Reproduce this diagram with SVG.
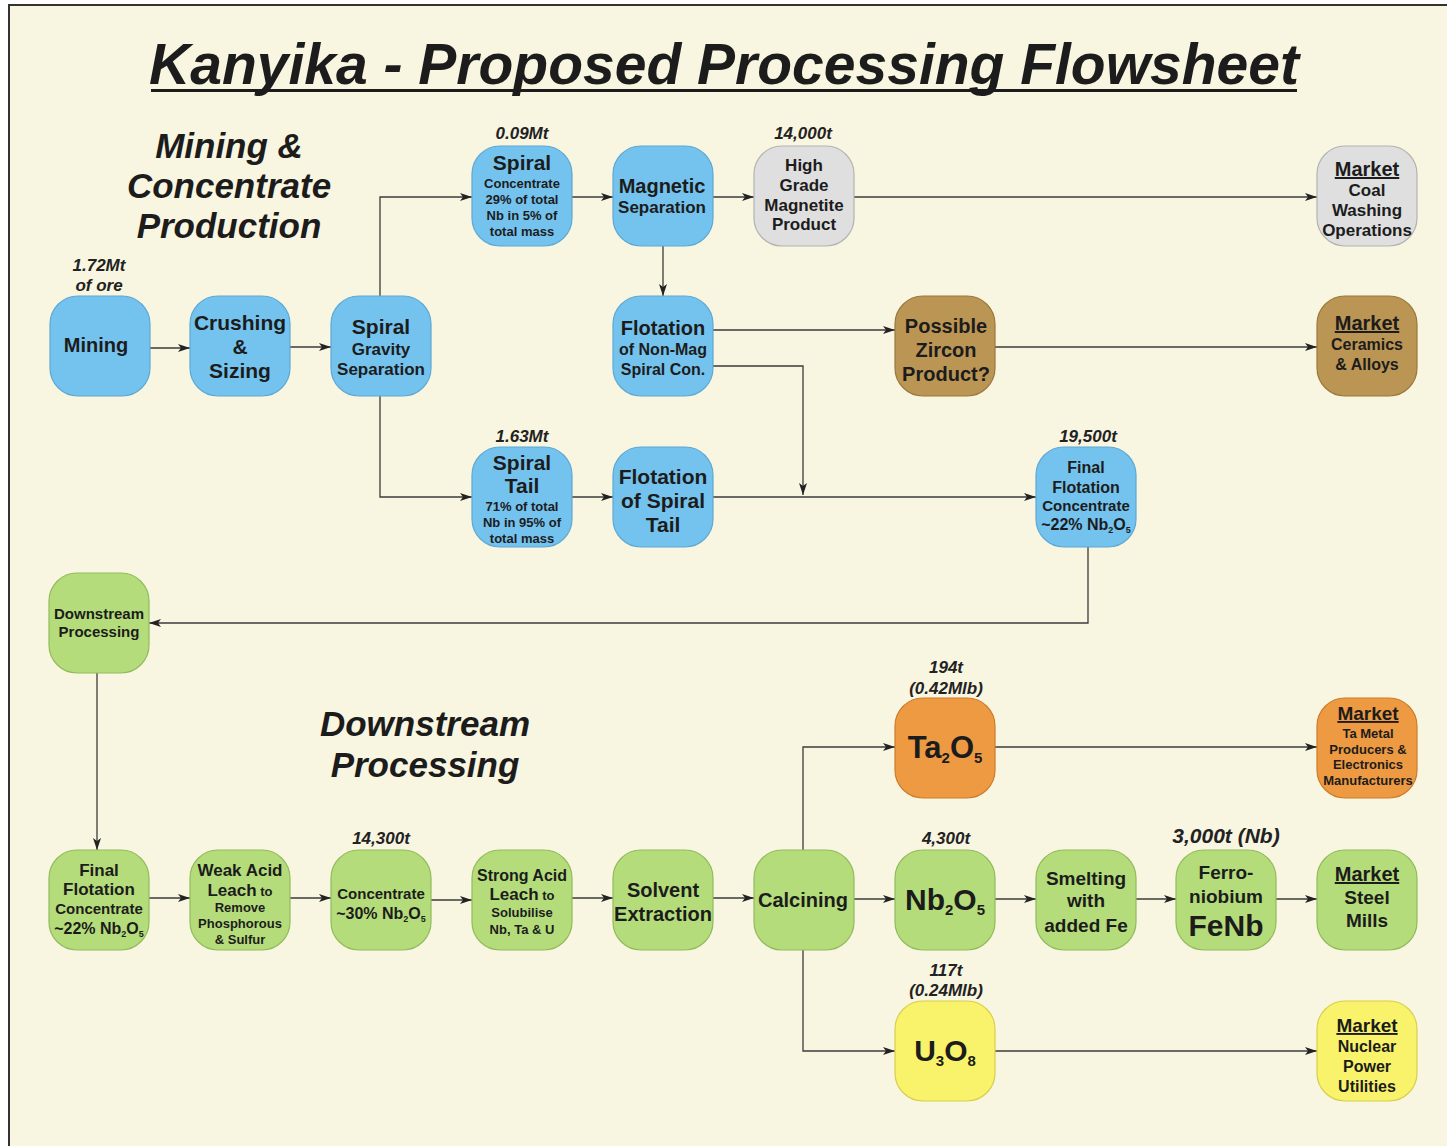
<svg xmlns="http://www.w3.org/2000/svg" width="1447" height="1146" viewBox="0 0 1447 1146">
  <style>
    text { font-family: "Liberation Sans", Arial, sans-serif; font-weight: bold; fill: #1c1c1c; text-anchor: middle; }
    .it { font-style: italic; }
    .ann { font-style: italic; font-size: 17px; fill: #222; }
    .ann-lg { font-size: 21px; }
    .u { text-decoration: underline; }
    .box { stroke-width: 1.2; }
    .blue { fill: #74c3ee; stroke: #5ea8d4; }
    .gray { fill: #dfdfdf; stroke: #b3b3b3; }
    .brown { fill: #bb9554; stroke: #9a783c; }
    .green { fill: #b5dc7a; stroke: #92bb5c; }
    .orange { fill: #ee9a42; stroke: #cd7c2a; }
    .yellow { fill: #f9f36b; stroke: #d6cf4c; }
    .wire { fill: none; stroke: #3b3b3b; stroke-width: 1.3; marker-end: url(#arr); }
  </style>
  <defs>
    <marker id="arr" viewBox="0 0 12 8" refX="12" refY="4" markerWidth="12" markerHeight="8" markerUnits="userSpaceOnUse" orient="auto">
      <path d="M0,0 L12,4 L0,8 L3,4 Z" fill="#222"/>
    </marker>
  </defs>

  <!-- page and frame -->
  <rect x="0" y="0" width="1447" height="1146" fill="#ffffff"/>
  <rect x="9" y="5" width="1446" height="1150" fill="#f8f5e0" stroke="#333" stroke-width="2"/>

  <!-- headings -->
  <g id="title">
    <text x="724" y="84" class="it" font-size="57">Kanyika - Proposed Processing Flowsheet</text>
    <rect x="151" y="89" width="1146" height="3" fill="#1c1c1c"/>
  </g>
  <g id="heading-mining">
    <text x="229" y="158" class="it" font-size="35">Mining &amp;</text>
    <text x="229" y="198" class="it" font-size="35">Concentrate</text>
    <text x="229" y="238" class="it" font-size="35">Production</text>
  </g>
  <g id="heading-downstream">
    <text x="425" y="736" class="it" font-size="35">Downstream</text>
    <text x="425" y="777" class="it" font-size="35">Processing</text>
  </g>

  <!-- quantity annotations -->
  <g id="annotations">
    <text x="99" y="271" class="ann">1.72Mt</text>
    <text x="99" y="291" class="ann">of ore</text>
    <text x="522" y="139" class="ann">0.09Mt</text>
    <text x="803" y="139" class="ann">14,000t</text>
    <text x="522" y="442" class="ann">1.63Mt</text>
    <text x="1088" y="442" class="ann">19,500t</text>
    <text x="946" y="673" class="ann">194t</text>
    <text x="946" y="694" class="ann">(0.42Mlb)</text>
    <text x="381" y="844" class="ann">14,300t</text>
    <text x="946" y="844" class="ann">4,300t</text>
    <text x="1226" y="843" class="ann ann-lg">3,000t (Nb)</text>
    <text x="946" y="976" class="ann">117t</text>
    <text x="946" y="996" class="ann">(0.24Mlb)</text>
  </g>

  <!-- connectors -->
  <g id="connectors">
    <path class="wire" d="M150,348 H190"/>
    <path class="wire" d="M290,347 H331"/>
    <path class="wire" d="M380,296 V197 H472"/>
    <path class="wire" d="M380,396 V497 H472"/>
    <path class="wire" d="M572,197 H613"/>
    <path class="wire" d="M713,197 H754"/>
    <path class="wire" d="M854,197 H1317"/>
    <path class="wire" d="M663,246 V296"/>
    <path class="wire" d="M713,330 H895"/>
    <path class="wire" d="M713,366 H803 V495"/>
    <path class="wire" d="M995,347 H1317"/>
    <path class="wire" d="M572,497 H613"/>
    <path class="wire" d="M713,497 H1036"/>
    <path class="wire" d="M1088,547 V623 H149"/>
    <path class="wire" d="M97,673 V850"/>
    <path class="wire" d="M149,898 H190"/>
    <path class="wire" d="M290,898 H331"/>
    <path class="wire" d="M431,900 H472"/>
    <path class="wire" d="M572,898 H613"/>
    <path class="wire" d="M713,898 H754"/>
    <path class="wire" d="M854,899 H895"/>
    <path class="wire" d="M995,899 H1036"/>
    <path class="wire" d="M1136,899 H1176"/>
    <path class="wire" d="M1276,899 H1317"/>
    <path class="wire" d="M803,850 V747 H895"/>
    <path class="wire" d="M803,950 V1051 H895"/>
    <path class="wire" d="M995,747 H1317"/>
    <path class="wire" d="M995,1051 H1317"/>
  </g>

  <!-- concentrate production nodes -->
  <g id="mining">
    <rect class="box blue" x="50" y="296" width="100" height="100" rx="28"/>
    <text x="96" y="352" font-size="20">Mining</text>
  </g>
  <g id="crushing">
    <rect class="box blue" x="190" y="296" width="100" height="100" rx="28"/>
    <text x="240" y="330" font-size="21">Crushing</text>
    <text x="240" y="354" font-size="21">&amp;</text>
    <text x="240" y="378" font-size="21">Sizing</text>
  </g>
  <g id="spiral-gravity">
    <rect class="box blue" x="331" y="296" width="100" height="100" rx="28"/>
    <text x="381" y="334" font-size="21">Spiral</text>
    <text x="381" y="355" font-size="17">Gravity</text>
    <text x="381" y="375" font-size="17">Separation</text>
  </g>
  <g id="spiral-concentrate">
    <rect class="box blue" x="472" y="146" width="100" height="100" rx="28"/>
    <text x="522" y="170" font-size="21">Spiral</text>
    <text x="522" y="188" font-size="13">Concentrate</text>
    <text x="522" y="204" font-size="13">29% of total</text>
    <text x="522" y="220" font-size="13">Nb in 5% of</text>
    <text x="522" y="236" font-size="13">total mass</text>
  </g>
  <g id="magnetic">
    <rect class="box blue" x="613" y="146" width="100" height="100" rx="28"/>
    <text x="662" y="193" font-size="20">Magnetic</text>
    <text x="662" y="213" font-size="17">Separation</text>
  </g>
  <g id="magnetite">
    <rect class="box gray" x="754" y="146" width="100" height="100" rx="28"/>
    <text x="804" y="171" font-size="17">High</text>
    <text x="804" y="191" font-size="17">Grade</text>
    <text x="804" y="211" font-size="17">Magnetite</text>
    <text x="804" y="230" font-size="17">Product</text>
  </g>
  <g id="market-coal">
    <rect class="box gray" x="1317" y="146" width="100" height="100" rx="28"/>
    <text x="1367" y="176" font-size="20" class="u">Market</text>
    <text x="1367" y="196" font-size="17">Coal</text>
    <text x="1367" y="216" font-size="17">Washing</text>
    <text x="1367" y="236" font-size="17">Operations</text>
  </g>
  <g id="flotation-nonmag">
    <rect class="box blue" x="613" y="296" width="100" height="100" rx="28"/>
    <text x="663" y="335" font-size="20">Flotation</text>
    <text x="663" y="355" font-size="16">of Non-Mag</text>
    <text x="663" y="375" font-size="16">Spiral Con.</text>
  </g>
  <g id="zircon">
    <rect class="box brown" x="895" y="296" width="100" height="100" rx="28"/>
    <text x="946" y="333" font-size="20">Possible</text>
    <text x="946" y="357" font-size="20">Zircon</text>
    <text x="946" y="381" font-size="20">Product?</text>
  </g>
  <g id="market-ceramics">
    <rect class="box brown" x="1317" y="296" width="100" height="100" rx="28"/>
    <text x="1367" y="330" font-size="20" class="u">Market</text>
    <text x="1367" y="350" font-size="16">Ceramics</text>
    <text x="1367" y="370" font-size="16">&amp; Alloys</text>
  </g>
  <g id="spiral-tail">
    <rect class="box blue" x="472" y="447" width="100" height="100" rx="28"/>
    <text x="522" y="470" font-size="21">Spiral</text>
    <text x="522" y="493" font-size="21">Tail</text>
    <text x="522" y="511" font-size="13">71% of total</text>
    <text x="522" y="527" font-size="13">Nb in 95% of</text>
    <text x="522" y="543" font-size="13">total mass</text>
  </g>
  <g id="flotation-tail">
    <rect class="box blue" x="613" y="447" width="100" height="100" rx="28"/>
    <text x="663" y="484" font-size="21">Flotation</text>
    <text x="663" y="508" font-size="21">of Spiral</text>
    <text x="663" y="532" font-size="21">Tail</text>
  </g>
  <g id="final-concentrate-1">
    <rect class="box blue" x="1036" y="447" width="100" height="100" rx="28"/>
    <text x="1086" y="473" font-size="16">Final</text>
    <text x="1086" y="493" font-size="16">Flotation</text>
    <text x="1086" y="511" font-size="15">Concentrate</text>
    <text x="1086" y="530" font-size="16">~22% Nb<tspan font-size="9" dy="3">2</tspan><tspan dy="-3">O</tspan><tspan font-size="9" dy="3">5</tspan></text>
  </g>

  <!-- downstream nodes -->
  <g id="downstream">
    <rect class="box green" x="49" y="573" width="100" height="100" rx="28"/>
    <text x="99" y="619" font-size="15">Downstream</text>
    <text x="99" y="637" font-size="15">Processing</text>
  </g>
  <g id="final-concentrate-2">
    <rect class="box green" x="49" y="850" width="100" height="100" rx="28"/>
    <text x="99" y="876" font-size="17">Final</text>
    <text x="99" y="895" font-size="17">Flotation</text>
    <text x="99" y="914" font-size="15">Concentrate</text>
    <text x="99" y="934" font-size="16">~22% Nb<tspan font-size="9" dy="3">2</tspan><tspan dy="-3">O</tspan><tspan font-size="9" dy="3">5</tspan></text>
  </g>
  <g id="weak-acid">
    <rect class="box green" x="190" y="850" width="100" height="100" rx="28"/>
    <text x="240" y="876" font-size="17">Weak Acid</text>
    <text x="240" y="896" font-size="17">Leach<tspan font-size="13"> to</tspan></text>
    <text x="240" y="912" font-size="13">Remove</text>
    <text x="240" y="928" font-size="13">Phosphorous</text>
    <text x="240" y="944" font-size="13">&amp; Sulfur</text>
  </g>
  <g id="concentrate-30">
    <rect class="box green" x="331" y="850" width="100" height="100" rx="28"/>
    <text x="381" y="899" font-size="15">Concentrate</text>
    <text x="381" y="919" font-size="16">~30% Nb<tspan font-size="9" dy="3">2</tspan><tspan dy="-3">O</tspan><tspan font-size="9" dy="3">5</tspan></text>
  </g>
  <g id="strong-acid">
    <rect class="box green" x="472" y="850" width="100" height="100" rx="28"/>
    <text x="522" y="881" font-size="16">Strong Acid</text>
    <text x="522" y="900" font-size="17">Leach<tspan font-size="13"> to</tspan></text>
    <text x="522" y="917" font-size="13">Solubilise</text>
    <text x="522" y="934" font-size="13">Nb, Ta &amp; U</text>
  </g>
  <g id="solvent">
    <rect class="box green" x="613" y="850" width="100" height="100" rx="28"/>
    <text x="663" y="897" font-size="20">Solvent</text>
    <text x="663" y="921" font-size="20">Extraction</text>
  </g>
  <g id="calcining">
    <rect class="box green" x="754" y="850" width="100" height="100" rx="28"/>
    <text x="803" y="907" font-size="20">Calcining</text>
  </g>
  <g id="nb2o5">
    <rect class="box green" x="895" y="850" width="100" height="100" rx="28"/>
    <text x="945" y="910" font-size="30">Nb<tspan font-size="15" dy="5">2</tspan><tspan dy="-5">O</tspan><tspan font-size="15" dy="5">5</tspan></text>
  </g>
  <g id="smelting">
    <rect class="box green" x="1036" y="850" width="100" height="100" rx="28"/>
    <text x="1086" y="885" font-size="19">Smelting</text>
    <text x="1086" y="907" font-size="19">with</text>
    <text x="1086" y="932" font-size="19">added Fe</text>
  </g>
  <g id="ferroniobium">
    <rect class="box green" x="1176" y="850" width="100" height="100" rx="28"/>
    <text x="1226" y="879" font-size="19">Ferro-</text>
    <text x="1226" y="903" font-size="19">niobium</text>
    <text x="1226" y="936" font-size="30">FeNb</text>
  </g>
  <g id="market-steel">
    <rect class="box green" x="1317" y="850" width="100" height="100" rx="28"/>
    <text x="1367" y="881" font-size="20" class="u">Market</text>
    <text x="1367" y="904" font-size="19">Steel</text>
    <text x="1367" y="927" font-size="19">Mills</text>
  </g>
  <g id="ta2o5">
    <rect class="box orange" x="895" y="698" width="100" height="100" rx="28"/>
    <text x="945" y="758" font-size="31">Ta<tspan font-size="15" dy="5">2</tspan><tspan dy="-5">O</tspan><tspan font-size="15" dy="5">5</tspan></text>
  </g>
  <g id="market-ta">
    <rect class="box orange" x="1317" y="698" width="100" height="100" rx="28"/>
    <text x="1368" y="720" font-size="19" class="u">Market</text>
    <text x="1368" y="738" font-size="13">Ta Metal</text>
    <text x="1368" y="754" font-size="13">Producers &amp;</text>
    <text x="1368" y="769" font-size="13">Electronics</text>
    <text x="1368" y="785" font-size="13">Manufacturers</text>
  </g>
  <g id="u3o8">
    <rect class="box yellow" x="895" y="1001" width="100" height="100" rx="28"/>
    <text x="945" y="1061" font-size="30">U<tspan font-size="15" dy="5">3</tspan><tspan dy="-5">O</tspan><tspan font-size="15" dy="5">8</tspan></text>
  </g>
  <g id="market-nuclear">
    <rect class="box yellow" x="1317" y="1001" width="100" height="100" rx="28"/>
    <text x="1367" y="1032" font-size="19" class="u">Market</text>
    <text x="1367" y="1052" font-size="16">Nuclear</text>
    <text x="1367" y="1072" font-size="16">Power</text>
    <text x="1367" y="1092" font-size="16">Utilities</text>
  </g>
</svg>
